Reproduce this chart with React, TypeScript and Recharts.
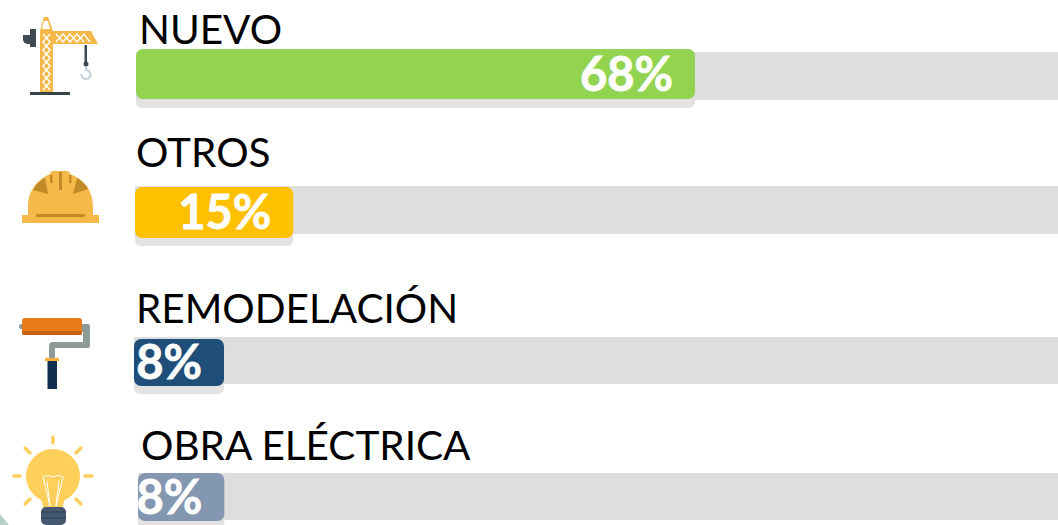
import React from "react";
import { BarChart, Bar, XAxis, YAxis, LabelList } from "recharts";

// Data
const categories = ["NUEVO", "OTROS", "REMODELACIÓN", "OBRA ELÉCTRICA"];
const percentLabels = ["68%", "15%", "8%", "8%"];
// Drawn bar lengths (the picture's bars are not strictly proportional to their labels)
const barLengths = [68, 19.25, 10.95, 10.5];
const barColors = ["#92d350", "#ffc000", "#1f4e79", "#8497b0"];

// Layout of the hand-placed rows
const rows = [
  { left: 136, top: 49, bottom: 99, trackTop: 52, trackBottom: 100, shadowBottom: 108, nameDx: 3, nameDy: 5 },
  { left: 135, top: 187, bottom: 238, trackTop: 186, trackBottom: 234, shadowBottom: 246, nameDx: 1, nameDy: 20 },
  { left: 134, top: 339, bottom: 386, trackTop: 337, trackBottom: 384, shadowBottom: 394, nameDx: 2, nameDy: 16 },
  { left: 138, top: 473, bottom: 521, trackTop: 473, trackBottom: 520, shadowBottom: 529, nameDx: 3, nameDy: 13 },
];
const W = 1058;
const H = 525;
const PX_PER_UNIT = 559 / 68;

type LayerProps = {
  left: number;
  top: number;
  bottom: number;
  value: number;
  color: string;
  radius?: number;
  children?: React.ReactNode;
  row: Record<string, unknown>;
};

function Layer({ left, top, bottom, value, color, radius = 0, row, children }: LayerProps) {
  const max = (W - left) / PX_PER_UNIT;
  return (
    <div style={{ position: "absolute", left: 0, top: 0, width: W, height: H }}>
      <BarChart
        width={W}
        height={H + 10}
        layout="vertical"
        data={[{ ...row, value: Math.min(value, max) }]}
        margin={{ left, right: 0, top, bottom: H + 10 - bottom }}
        barCategoryGap={0}
      >
        <XAxis type="number" hide domain={[0, max]} />
        <YAxis type="category" dataKey="name" hide />
        <Bar dataKey="value" fill={color} radius={radius} isAnimationActive={false}>
          {children}
        </Bar>
      </BarChart>
    </div>
  );
}

const Crane = () => (
  <g>
    <path d="M23 35 h7 v9 h-3 q-4 -1 -4 -5z" fill="#3d4a52" />
    <rect x="30" y="29" width="6" height="18" fill="#3d4a52" />
    <path d="M40 31 L44 17 H48 L53 31 H91 L98 44 H53 V92 H40 Z" fill="#f5b949" />
    <path d="M44 21 H48 L50 29 H42 Z" fill="#fff" />
    <g stroke="#fff" strokeWidth="1.4" fill="none">
      <path d="M41 34 L52 34 M41 46 H52 M41 58 H52 M41 70 H52 M41 82 H52" stroke="#f5b949" />
      <path d="M43 34 L50 42 L43 50 L50 58 L43 66 L50 74 L43 82 L50 90" />
      <path d="M50 34 L43 42 L50 50 L43 58 L50 66 L43 74 L50 82 L43 90" />
      <path d="M56 34 L63 42 L70 34 L77 42 L84 34 L90 42" />
      <path d="M56 42 L63 34 L70 42 L77 34 L84 42" />
    </g>
    <rect x="30" y="92" width="40" height="3" fill="#37444c" />
    <rect x="84.5" y="45" width="2.5" height="18" fill="#3d4a52" />
    <circle cx="86" cy="64" r="2.5" fill="#3d4a52" />
    <path d="M86 67 V70 A4.5 4.5 0 1 1 81.5 74" fill="none" stroke="#c8d2da" strokeWidth="2.2" />
  </g>
);

const Helmet = () => (
  <g>
    <path d="M28 215 V207 C28 190 38 179 50 174 Q50 171 54 171 H66 Q70 171 70 174 C84 179 93 190 93 207 V215 Z" fill="#f5b949" />
    <rect x="22" y="215" width="77" height="8" fill="#f5b949" />
    <rect x="36" y="214" width="49" height="3" rx="1.5" fill="#c08a26" />
    <path d="M33 190 Q37 182 45 178 L48 194 Z" fill="#c08a26" />
    <path d="M88 189 Q84 182 77 178 L73 194 Z" fill="#c08a26" />
    <rect x="59" y="172" width="3" height="18" fill="#c08a26" />
    <rect x="50" y="175" width="2.5" height="8" fill="#c08a26" />
    <rect x="69" y="175" width="2.5" height="8" fill="#c08a26" />
  </g>
);

const Roller = () => (
  <g>
    <rect x="19" y="324" width="5" height="5" rx="2" fill="#8f9b98" />
    <path d="M82 324 H88 Q90 324 90 326 V346 Q90 348 88 348 H55 V360 H49 V346 Q49 342 53 342 H83 V332 H82 Z" fill="#8f9b98" />
    <rect x="22" y="318" width="60" height="17" rx="3" fill="#e87c18" />
    <rect x="22" y="331" width="60" height="4" rx="2" fill="#c7630f" />
    <rect x="45" y="358" width="14" height="3" fill="#f5b040" />
    <rect x="47.5" y="361" width="9.5" height="28" fill="#0f2e4f" />
  </g>
);

const Bulb = () => (
  <g>
    <circle cx="53" cy="476" r="27" fill="#ffcf5c" />
    <path d="M41 498 H65 L62 510 H44 Z" fill="#ffcf5c" />
    <path d="M43 477 L50 506 M63 477 L56 506 M43 477 Q48 474 53 477 Q58 474 63 477 M47 481 L50 506 M59 481 L56 506" stroke="#fff" strokeWidth="1" fill="none" />
    <rect x="41" y="507" width="25" height="18" rx="5" fill="#44586f" />
    <path d="M41 512 H66 M41 518 H66" stroke="#2f4157" strokeWidth="1.2" />
    <g stroke="#ffcf5c" strokeWidth="3.5" strokeLinecap="round">
      <path d="M53 437 V443" />
      <path d="M25 448 L30 453" />
      <path d="M81 448 L76 453" />
      <path d="M14 476 H20" />
      <path d="M85 476 H92" />
      <path d="M25 504 L30 499" />
      <path d="M81 504 L76 499" />
    </g>
  </g>
);

const NameLabel = (dx: number, dy: number) => (props: any) => (
  <text
    x={props.x + dx}
    y={props.y - dy}
    fill="#000"
    fontFamily="Lato, sans-serif"
    fontSize={40.5}
    textAnchor="start"
  >
    {props.value}
  </text>
);

export default function App() {
  return (
    <div style={{ position: "absolute", left: 0, top: 0, width: W, height: H, overflow: "hidden", background: "#fff" }}>
      {rows.map((r, i) => {
        const row = { name: categories[i], label: percentLabels[i] };
        const max = (W - r.left) / PX_PER_UNIT;
        return (
          <React.Fragment key={categories[i]}>
            <Layer left={r.left} top={r.top + 8} bottom={r.shadowBottom} value={barLengths[i]} color="#e3e3e3" radius={6} row={row} />
            <Layer left={r.left} top={r.trackTop} bottom={r.trackBottom} value={max} color="#dedede" row={row} />
            <Layer left={r.left} top={r.top} bottom={r.bottom} value={barLengths[i]} color={barColors[i]} radius={7} row={row}>
              <LabelList dataKey="label" position="insideRight" offset={22} fill="#fff" stroke="#fff" strokeWidth={0.8} fontFamily="Lato, sans-serif" fontWeight={700} fontSize={47} />
              <LabelList dataKey="name" content={NameLabel(r.nameDx, r.nameDy)} />
            </Layer>
          </React.Fragment>
        );
      })}
      <svg width={W} height={H} style={{ position: "absolute", left: 0, top: 0 }}>
        <Crane />
        <Helmet />
        <Roller />
        <Bulb />
        <path d="M0 514 L9 525 H0 Z" fill="#b9cfc6" />
      </svg>
    </div>
  );
}
